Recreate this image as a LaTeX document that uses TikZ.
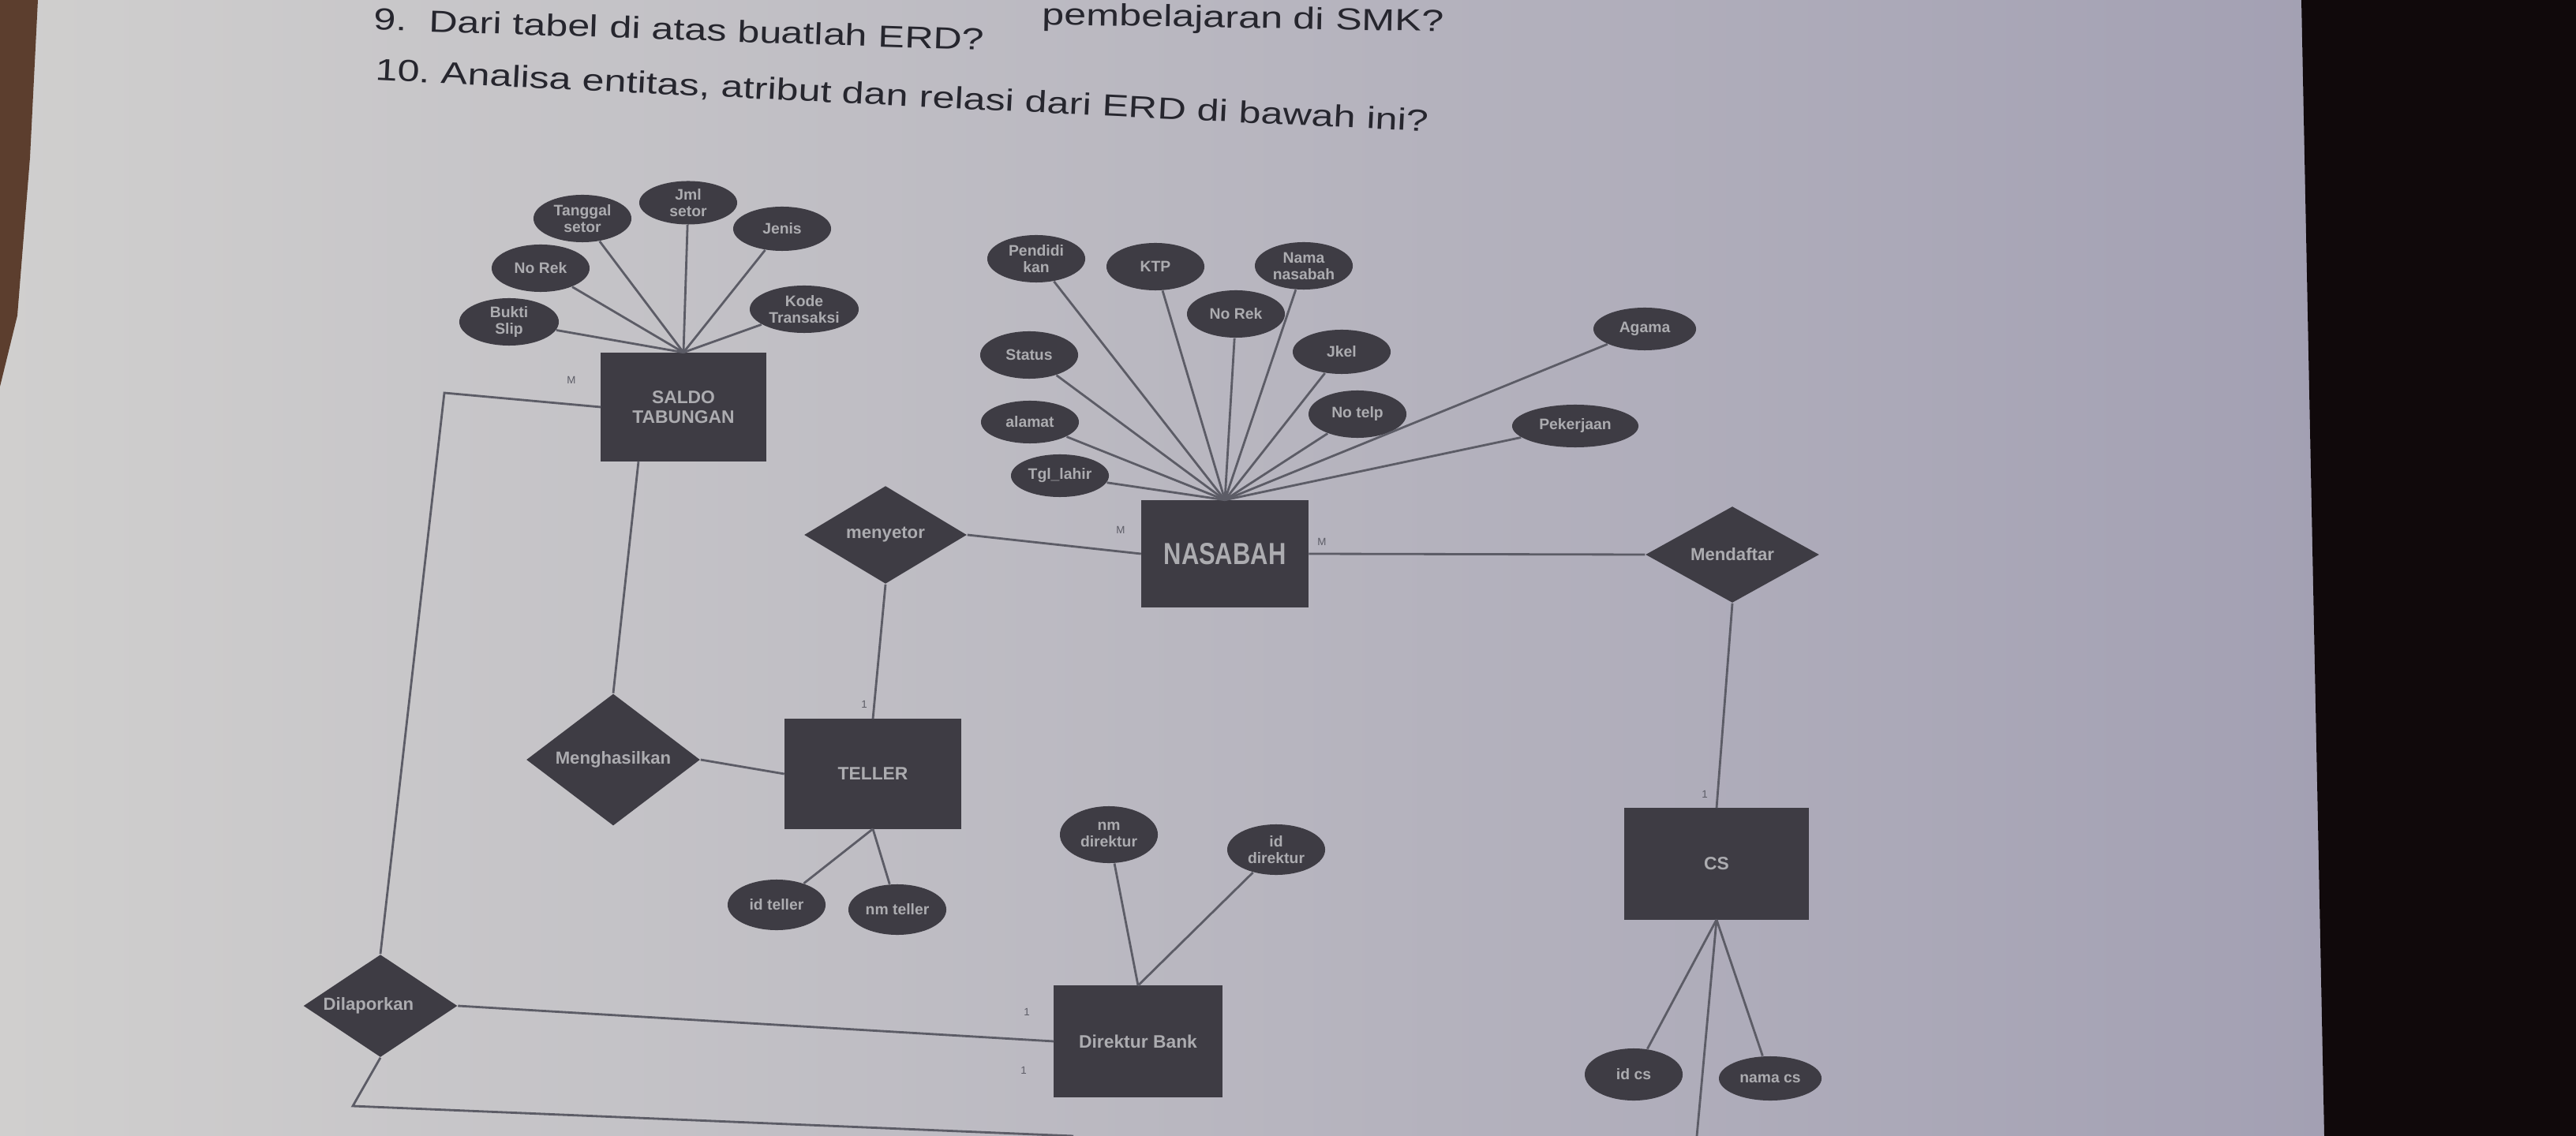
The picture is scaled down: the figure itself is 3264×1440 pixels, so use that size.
\documentclass[tikz,border=0pt]{standalone}
\usepackage{fontspec}
\setmainfont{Liberation Sans}
\usetikzlibrary{shapes.geometric}
\definecolor{pageL}{RGB}{208,207,206}
\definecolor{pageR}{RGB}{158,155,176}
\definecolor{shapefill}{RGB}{62,60,68}
\definecolor{shapetext}{RGB}{172,172,176}
\definecolor{linecol}{RGB}{92,92,102}
\definecolor{ink}{RGB}{38,38,46}
\definecolor{darkbg}{RGB}{16,9,11}
\definecolor{wood}{RGB}{92,62,46}
\newcommand{\widetext}[1]{\scalebox{1.3}[1]{#1}}
\begin{document}
\begin{tikzpicture}[x=0.01cm,y=-0.01cm,
  ent/.style={rectangle, fill=shapefill, draw=shapefill, inner sep=0pt, text=shapetext,
    font=\fontsize{6.5}{7}\selectfont\bfseries, align=center},
  rel/.style={diamond, fill=shapefill, inner sep=0pt, text=shapetext,
    font=\fontsize{6.3}{7}\selectfont\bfseries, align=center},
  attr/.style={ellipse, fill=shapefill, inner sep=0pt, minimum width=1.24cm, minimum height=0.6cm,
    text=shapetext, font=\fontsize{5.5}{6}\selectfont\bfseries, align=center},
  conn/.style={draw=linecol, line width=0.8pt},
  card/.style={text=linecol, font=\fontsize{3.8}{4}\selectfont, inner sep=0pt},
  head/.style={text=ink, inner sep=0pt, font=\fontsize{11}{12}\selectfont}
]
\useasboundingbox (0,0) rectangle (3264,1440);
% page background
\shade[left color=pageL, right color=pageR] (0,0) rectangle (3264,1440);
\fill[wood] (0,0) -- (48,0) -- (38,200) -- (22,400) -- (0,490) -- cycle;
\fill[darkbg] (2916,0) -- (3264,0) -- (3264,1440) -- (2945,1440) -- cycle;

% header text
\node[head, anchor=west, rotate=-1.9] (q9) at (473,24) {\widetext{9.\ \ Dari tabel di atas buatlah ERD?}};
\node[head, anchor=east, rotate=-1] (q8) at (1830,30) {\widetext{pembelajaran di SMK?}};
\node[head, anchor=west, rotate=-2.8] (q10) at (475,90) {\widetext{10.\ Analisa entitas, atribut dan relasi dari ERD di bawah ini?}};

% entities
\node[ent, minimum width=2.08cm, minimum height=1.37cm] (saldo) at (866,516) {SALDO\\TABUNGAN};
\node[ent, minimum width=2.11cm, minimum height=1.35cm, font=\fontsize{11}{12}\selectfont\bfseries] (nasabah) at (1552,702) {\scalebox{0.8}[1]{NASABAH}};
\node[ent, minimum width=2.23cm, minimum height=1.38cm] (teller) at (1106,981) {TELLER};
\node[ent, minimum width=2.12cm, minimum height=1.40cm] (direktur) at (1442,1320) {Direktur Bank};
\node[ent, minimum width=2.32cm, minimum height=1.40cm] (cs) at (2175,1095) {CS};

% relationships
\node[rel, minimum width=2.06cm, minimum height=1.24cm] (menyetor) at (1122,678) {menyetor};
\node[rel, minimum width=2.20cm, minimum height=1.22cm] (mengh) at (777,963) {Menghasilkan};
\node[rel, minimum width=1.95cm, minimum height=1.30cm] (dilap) at (482,1275) {\hspace*{-0.3cm}Dilaporkan};
\node[rel, minimum width=2.20cm, minimum height=1.20cm] (mendaftar) at (2195,703) {Mendaftar};

% attributes of SALDO TABUNGAN
\node[attr] (sa1) at (738,277) {Tanggal\\setor};
\node[attr, minimum height=0.55cm] (sa2) at (872,257) {Jml\\setor};
\node[attr, minimum height=0.56cm] (sa3) at (991,290) {Jenis};
\node[attr] (sa4) at (685,340) {No Rek};
\node[attr, minimum width=1.38cm] (sa5) at (1019,392) {Kode\\Transaksi};
\node[attr, minimum width=1.26cm] (sa6) at (645,408) {Bukti\\Slip};

% attributes of NASABAH
\node[attr] (na1) at (1313,328) {Pendidi\\kan};
\node[attr] (na2) at (1464,338) {KTP};
\node[attr] (na3) at (1652,337) {Nama\\nasabah};
\node[attr] (na4) at (1566,398) {No Rek};
\node[attr] (na5) at (1304,450) {Status};
\node[attr, minimum height=0.56cm] (na6) at (1700,446) {Jkel};
\node[attr, minimum height=0.54cm] (na7) at (1305,535) {alamat};
\node[attr] (na8) at (1720,525) {No telp};
\node[attr, minimum height=0.54cm] (na9) at (1343,603) {Tgl\_lahir};
\node[attr, minimum width=1.3cm, minimum height=0.54cm] (na10) at (2084,417) {Agama};
\node[attr, minimum width=1.6cm, minimum height=0.54cm] (na11) at (1996,540) {Pekerjaan};

% attributes of TELLER, Direktur Bank, CS
\node[attr, minimum height=0.64cm] (te1) at (984,1147) {id teller};
\node[attr, minimum height=0.64cm] (te2) at (1137,1153) {nm teller};
\node[attr, minimum height=0.72cm] (dr1) at (1405,1058) {nm\\direktur};
\node[attr, minimum height=0.64cm] (dr2) at (1617,1077) {id\\direktur};
\node[attr, minimum height=0.66cm] (cs1) at (2070,1362) {id cs};
\node[attr, minimum width=1.3cm, minimum height=0.56cm] (cs2) at (2243,1367) {nama cs};

% free ends and bends
\coordinate (bendA) at (563,498);
\coordinate (bendB) at (447,1402);
\coordinate (freeB) at (1360,1440);
\coordinate (freeC) at (2150,1440);

% attribute connectors
\foreach \a in {sa1,sa2,sa3,sa4,sa5,sa6}{\draw[conn] (saldo.north) -- (\a);}
\foreach \a in {na1,na2,na3,na4,na5,na6,na7,na8,na9,na10,na11}{\draw[conn] (nasabah.north) -- (\a);}
\draw[conn] (teller.south) -- (te1);
\draw[conn] (teller.south) -- (te2);
\draw[conn] (direktur.north) -- (dr1);
\draw[conn] (direktur.north) -- (dr2);
\draw[conn] (cs.south) -- (cs1);
\draw[conn] (cs.south) -- (cs2);
\draw[conn] (cs.south) -- (freeC);

% relationship connectors
\draw[conn] (saldo.west) -- (bendA) -- (dilap.north);
\draw[conn] ([xshift=-0.57cm]saldo.south) -- (mengh.north);
\draw[conn] (mengh.east) -- (teller.west);
\draw[conn] (menyetor.east) -- (nasabah.west);
\draw[conn] (menyetor.south) -- (teller.north);
\draw[conn] (nasabah.east) -- (mendaftar.west);
\draw[conn] (mendaftar.south) -- (cs.north);
\draw[conn] (dilap.east) -- (direktur.west);
\draw[conn] (dilap.south) -- (bendB) -- (freeB);

% cardinalities
\node[card] (m1) at (724,482) {M};
\node[card] (m2) at (1420,672) {M};
\node[card] (m3) at (1675,687) {M};
\node[card] (o1) at (1095,893) {1};
\node[card] (o2) at (2160,1007) {1};
\node[card] (o3) at (1301,1283) {1};
\node[card] (o4) at (1297,1357) {1};
\end{tikzpicture}
\end{document}
